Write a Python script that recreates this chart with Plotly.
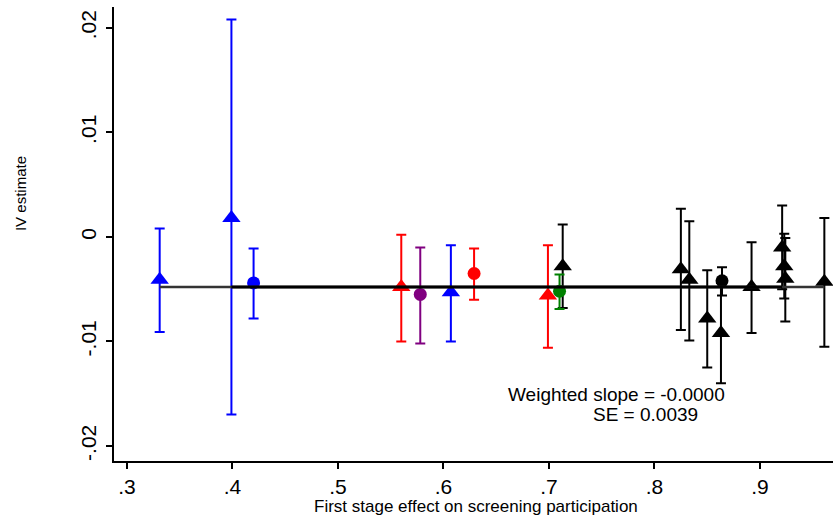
import plotly.graph_objects as go

# ---- data ----
blue_tri_x = [0.331, 0.399, 0.607]
blue_tri_y = [-0.0041, 0.0018, -0.0053]
blue_tri_hi = [0.0008, 0.0208, -0.0008]
blue_tri_lo = [-0.0091, -0.0170, -0.0100]

blue_cir_x = [0.420]
blue_cir_y = [-0.0044]
blue_cir_hi = [-0.0011]
blue_cir_lo = [-0.0078]

red_tri_x = [0.560, 0.699]
red_tri_y = [-0.0048, -0.0056]
red_tri_hi = [0.0002, -0.0008]
red_tri_lo = [-0.0100, -0.0106]

red_cir_x = [0.629]
red_cir_y = [-0.0035]
red_cir_hi = [-0.0011]
red_cir_lo = [-0.0060]

purple_cir_x = [0.578]
purple_cir_y = [-0.0055]
purple_cir_hi = [-0.0010]
purple_cir_lo = [-0.0102]

green_cir_x = [0.710]
green_cir_y = [-0.0052]
green_cir_hi = [-0.0036]
green_cir_lo = [-0.0069]

black_tri_x = [0.713, 0.825, 0.833, 0.850, 0.863, 0.892, 0.921, 0.923, 0.924, 0.961]
black_tri_y = [-0.0028, -0.0031, -0.0041, -0.0078, -0.0092, -0.0048, -0.0010, -0.0028, -0.0040, -0.0043]
black_tri_hi = [0.0012, 0.0027, 0.0015, -0.0032, -0.0044, -0.0005, 0.0030, 0.0003, -0.0001, 0.0018]
black_tri_lo = [-0.0068, -0.0089, -0.0099, -0.0125, -0.0140, -0.0092, -0.0050, -0.0059, -0.0081, -0.0105]

black_cir_x = [0.864]
black_cir_y = [-0.0042]
black_cir_hi = [-0.0029]
black_cir_lo = [-0.0056]

fit_y = -0.0048
fit_outer_x = [0.331, 0.961]
fit_inner_x = [0.399, 0.921]

x_ticks = [0.3, 0.4, 0.5, 0.6, 0.7, 0.8, 0.9]
x_tick_labels = [".3", ".4", ".5", ".6", ".7", ".8", ".9"]
y_ticks = [-0.02, -0.01, 0.0, 0.01, 0.02]
y_tick_labels = ["-.02", "-.01", "0", ".01", ".02"]

x_title = "First stage effect on screening participation"
y_title = "IV estimate"
slope_text = "Weighted slope = -0.0000"
se_text = "SE = 0.0039"

fig = go.Figure()


def add_group(xs, ys, his, los, color, symbol, size):
    fig.add_trace(go.Scatter(
        x=xs, y=ys, mode="markers", cliponaxis=False,
        marker=dict(symbol=symbol, size=size, color=color, line=dict(width=0)),
        error_y=dict(type="data", symmetric=False,
                     array=[h - y for h, y in zip(his, ys)],
                     arrayminus=[y - l for l, y in zip(los, ys)],
                     color=color, thickness=2, width=5),
        showlegend=False, hoverinfo="skip"))


add_group(blue_tri_x, blue_tri_y, blue_tri_hi, blue_tri_lo, "#0000ff", "triangle-up", 16)
add_group(blue_cir_x, blue_cir_y, blue_cir_hi, blue_cir_lo, "#0000ff", "circle", 13)
add_group(red_tri_x, red_tri_y, red_tri_hi, red_tri_lo, "#ff0000", "triangle-up", 16)
add_group(red_cir_x, red_cir_y, red_cir_hi, red_cir_lo, "#ff0000", "circle", 13)
add_group(purple_cir_x, purple_cir_y, purple_cir_hi, purple_cir_lo, "#800080", "circle", 13)
add_group(black_tri_x, black_tri_y, black_tri_hi, black_tri_lo, "#000000", "triangle-up", 16)
add_group(green_cir_x, green_cir_y, green_cir_hi, green_cir_lo, "#008000", "circle", 13)
add_group(black_cir_x, black_cir_y, black_cir_hi, black_cir_lo, "#000000", "circle", 13)

fig.add_trace(go.Scatter(x=fit_outer_x, y=[fit_y] * 2, mode="lines",
                         line=dict(color="#333333", width=2.5),
                         showlegend=False, hoverinfo="skip"))
fig.add_trace(go.Scatter(x=fit_inner_x, y=[fit_y] * 2, mode="lines",
                         line=dict(color="#000000", width=3),
                         showlegend=False, hoverinfo="skip"))

fig.add_annotation(x=0.8687, y=-0.0151, xref="x", yref="y", text=slope_text,
                   showarrow=False, xanchor="right", yanchor="middle",
                   font=dict(size=19, color="black"))
fig.add_annotation(x=0.843, y=-0.0170, xref="x", yref="y", text=se_text,
                   showarrow=False, xanchor="right", yanchor="middle",
                   font=dict(size=19, color="black"))

# axis titles placed as annotations (paper coords, pixel shifts)
fig.add_annotation(x=0.5035, y=0, xref="paper", yref="paper", text=x_title,
                   showarrow=False, xanchor="center", yanchor="middle", yshift=-45,
                   font=dict(size=17, color="black"))
fig.add_annotation(x=0, y=0.588, xref="paper", yref="paper", text=y_title,
                   showarrow=False, xanchor="center", yanchor="middle", xshift=-94,
                   textangle=-90, font=dict(size=15, color="black"))

axis_common = dict(showline=True, linecolor="black", linewidth=1.5, showgrid=False,
                   zeroline=False, ticks="outside", ticklen=6, tickcolor="black",
                   tickwidth=1.5, tickfont=dict(size=21, color="black"))

fig.update_layout(
    width=833, height=517,
    margin=dict(l=114, r=0, t=7, b=56, autoexpand=False),
    paper_bgcolor="white", plot_bgcolor="white",
    font=dict(family="Liberation Sans, Arial, sans-serif", color="black"),
    xaxis=dict(range=[0.2877, 0.9692], tickvals=x_ticks, ticktext=x_tick_labels,
               **axis_common),
    yaxis=dict(range=[-0.02144, 0.0220], tickvals=y_ticks, ticktext=y_tick_labels,
               tickangle=-90, ticklabelstandoff=2, **axis_common),
)

fig.write_html("out.html", config={"displayModeBar": False},
               post_script="document.body.style.margin='0';")
